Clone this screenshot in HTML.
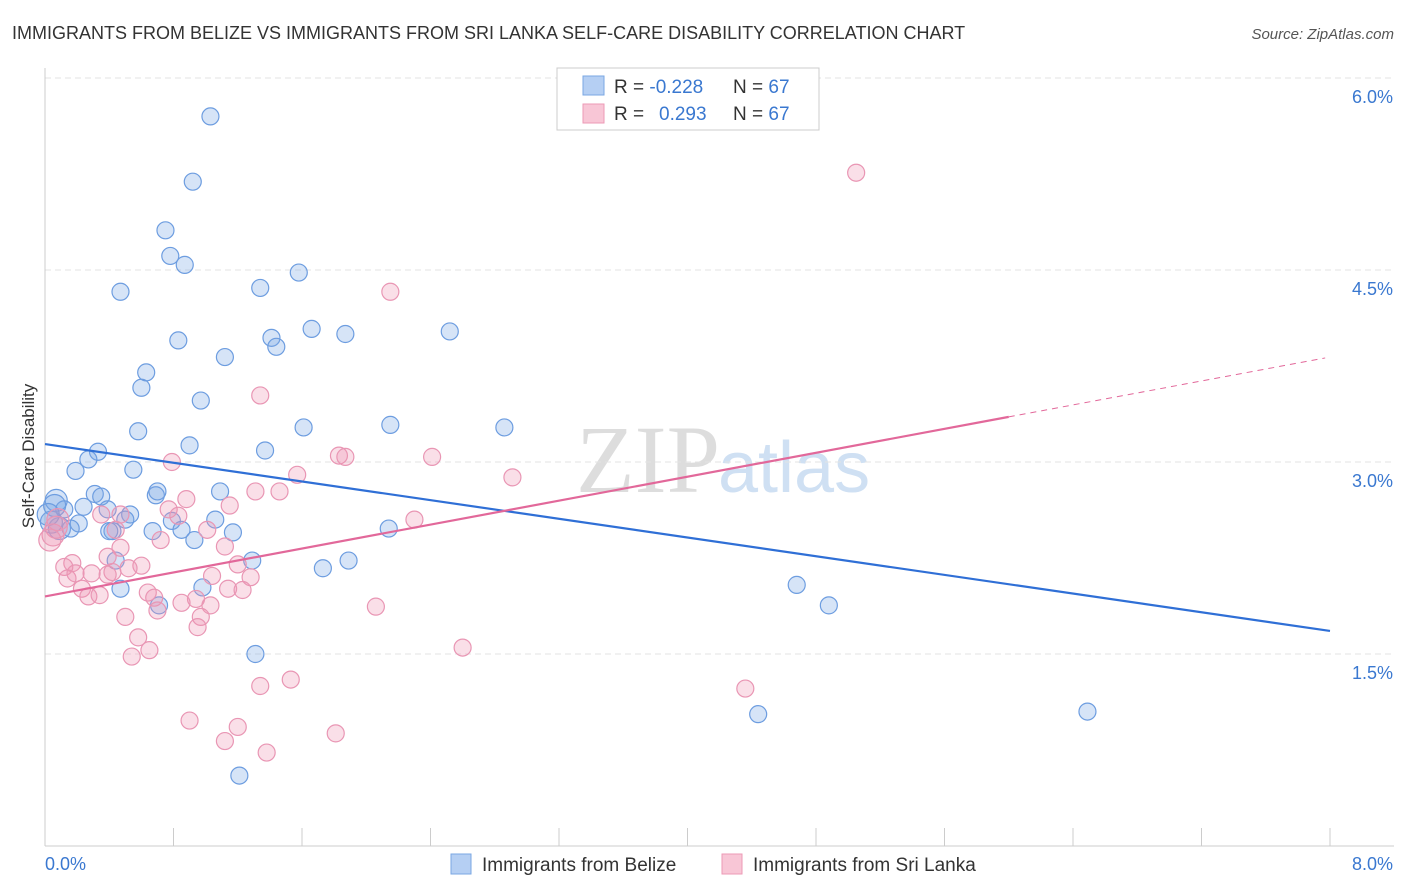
<!DOCTYPE html>
<html><head><meta charset="utf-8">
<style>
body{margin:0;background:#fff;font-family:"Liberation Sans",sans-serif;}
svg{display:block}
</style></head>
<body>
<svg id="chart" width="1406" height="892">
<text x="12" y="39" font-size="18" fill="#333">IMMIGRANTS FROM BELIZE VS IMMIGRANTS FROM SRI LANKA SELF-CARE DISABILITY CORRELATION CHART</text>
<text x="1394" y="39" font-size="15" fill="#555" font-style="italic" text-anchor="end">Source: ZipAtlas.com</text>
<text x="720" y="492" font-size="96" fill="#ddd" text-anchor="end" font-family="Liberation Serif">ZIP</text>
<text x="718" y="492" font-size="72" fill="#cfe0f3">atlas</text>
<g id="grid"></g>
<g id="axes"></g>
<g id="marks"></g>
<text transform="translate(34,456) rotate(-90)" font-size="17" fill="#333" text-anchor="middle">Self-Care Disability</text>
<g>
<rect x="557" y="68" width="262" height="62" fill="#fff" stroke="#ccc"/>
<rect x="583" y="76" width="21" height="19" fill="#b5cff3" stroke="#7aa7e3"/>
<rect x="583" y="104" width="21" height="19" fill="#f8c6d6" stroke="#ec9ab6"/>
<text x="614" y="93" font-size="19" fill="#333">R = <tspan fill="#3a78d0">-0.228</tspan></text>
<text x="733" y="93" font-size="19" fill="#333">N = <tspan fill="#3a78d0">67</tspan></text>
<text x="614" y="120" font-size="19" fill="#333">R = <tspan fill="#3a78d0" x="659">0.293</tspan></text>
<text x="733" y="120" font-size="19" fill="#333">N = <tspan fill="#3a78d0">67</tspan></text>
</g>
<g>
<rect x="451" y="854" width="20" height="20" fill="#b5cff3" stroke="#7aa7e3"/>
<text x="482" y="871" font-size="19" fill="#333">Immigrants from Belize</text>
<rect x="722" y="854" width="20" height="20" fill="#f8c6d6" stroke="#ec9ab6"/>
<text x="753" y="871" font-size="19" fill="#333">Immigrants from Sri Lanka</text>
</g>
</svg>
<script>
const blueX=[1.03,0.92,0.75,0.78,0.87,1.58,0.47,1.34,0.83,1.66,1.87,2.52,1.41,1.44,1.12,0.63,0.60,0.97,0.58,2.15,1.61,2.86,0.90,1.37,0.33,0.27,0.19,0.55,1.09,0.31,0.69,0.35,0.70,0.07,0.24,0.12,0.39,0.53,0.79,1.06,0.04,0.21,0.85,1.17,0.67,0.42,2.14,0.93,1.29,1.89,1.73,0.44,4.68,4.88,0.47,0.98,0.71,1.31,4.44,6.49,1.21,0.06,0.09,0.16,0.02,0.50,0.40];
const blueY=[5.70,5.19,4.81,4.61,4.54,4.48,4.33,4.36,3.95,4.04,4.00,4.02,3.97,3.90,3.82,3.70,3.58,3.48,3.24,3.29,3.27,3.27,3.13,3.09,3.08,3.02,2.93,2.94,2.77,2.75,2.74,2.73,2.77,2.70,2.65,2.63,2.63,2.59,2.54,2.55,2.53,2.52,2.47,2.45,2.46,2.46,2.48,2.39,2.23,2.23,2.17,2.23,2.04,1.88,2.01,2.02,1.88,1.50,1.03,1.05,0.55,2.66,2.48,2.48,2.59,2.55,2.46];
const pinkX=[5.05,2.15,1.34,0.79,1.57,1.83,1.87,2.41,2.91,1.31,1.46,0.88,0.47,0.77,0.83,2.30,1.01,0.44,0.07,0.05,1.12,0.39,0.17,0.60,0.12,0.29,0.42,0.52,1.20,1.28,1.04,0.14,0.23,0.64,0.68,0.27,0.34,0.94,1.14,1.23,0.85,1.03,0.70,2.06,0.50,0.97,0.95,0.58,0.65,0.54,2.60,4.36,1.53,1.34,0.90,1.20,1.12,1.38,1.81,0.03,0.08,0.35,0.19,0.39,0.47,0.72,1.15];
const pinkY=[5.26,4.33,3.52,3.00,2.90,3.05,3.04,3.04,2.88,2.77,2.77,2.71,2.59,2.63,2.58,2.55,2.47,2.47,2.49,2.43,2.34,2.26,2.21,2.19,2.18,2.13,2.14,2.17,2.20,2.10,2.11,2.09,2.01,1.98,1.94,1.95,1.96,1.93,2.01,2.00,1.90,1.88,1.84,1.87,1.79,1.79,1.71,1.63,1.53,1.48,1.55,1.23,1.30,1.25,0.98,0.93,0.82,0.73,0.88,2.39,2.55,2.59,2.13,2.12,2.33,2.39,2.66];
const yTicks=[1.5,3.0,4.5,6.0];
const yTickLabels=["1.5%","3.0%","4.5%","6.0%"];
const blueTrend=[3.14,1.68];
const pinkTrend=[1.95,3.82];
const pinkSolidEnd=6.0;

const NS="http://www.w3.org/2000/svg";
const X=v=>45+v/8*1285;
const Y=v=>846-v*128;
function el(tag,attrs,parent){const e=document.createElementNS(NS,tag);for(const k in attrs)e.setAttribute(k,attrs[k]);parent.appendChild(e);return e;}
const grid=document.getElementById('grid'),axes=document.getElementById('axes'),marks=document.getElementById('marks');
yTicks.forEach((t,i)=>{
  const g=el('line',{x1:45,x2:1394,y1:Y(t),y2:Y(t),stroke:'#e3e3e3','stroke-dasharray':'6,4'},grid);
  
  
  const l=el('text',{x:1393,y:Y(t)+25,'font-size':18,fill:'#3a78d0','text-anchor':'end'},axes);
  l.textContent=yTickLabels[i];
  
  
});
el('line',{x1:45,x2:45,y1:68,y2:846,stroke:'#ccc'},axes);
el('line',{x1:45,x2:1394,y1:846,y2:846,stroke:'#ccc'},axes);
for(let i=0;i<=10;i++){el('line',{x1:X(i*0.8),x2:X(i*0.8),y1:828,y2:846,stroke:'#ccc'},axes);}
const xl0=el('text',{x:45,y:870,'font-size':18,fill:'#3a78d0'},axes);xl0.textContent='0.0%';


const xl1=el('text',{x:1393,y:870,'font-size':18,fill:'#3a78d0','text-anchor':'end'},axes);xl1.textContent='8.0%';


function pts(xs,ys,fill,stroke,name){
  xs.forEach((x,i)=>{
    const r=(x<0.1)?11:8.5;
    const c=el('circle',{cx:X(x),cy:Y(ys[i]),r:r,fill:fill,stroke:stroke,'stroke-width':1.2},marks);
    
    
  });
}
pts(blueX,blueY,'rgba(120,165,230,0.3)','#6d9de0','belize-point');
pts(pinkX,pinkY,'rgba(240,150,180,0.3)','#e996b4','sri-lanka-point');
const bl=el('line',{x1:X(0),y1:Y(blueTrend[0]),x2:X(8),y2:Y(blueTrend[1]),stroke:'#2f6fd6','stroke-width':2.2},marks);


const py=x=>pinkTrend[0]+(pinkTrend[1]-pinkTrend[0])*x/8;
const pl=el('line',{x1:X(0),y1:Y(py(0)),x2:X(pinkSolidEnd),y2:Y(py(pinkSolidEnd)),stroke:'#e2689a','stroke-width':2.2},marks);


const pd=el('line',{x1:X(pinkSolidEnd),y1:Y(py(pinkSolidEnd)),x2:X(7.97),y2:Y(py(7.97)),stroke:'#e2689a','stroke-width':1,'stroke-dasharray':'6,5'},marks);


</script>
</body></html>
